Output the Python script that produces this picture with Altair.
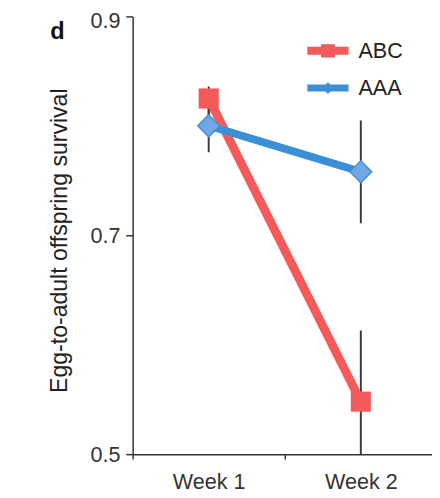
import altair as alt
import pandas as pd

weeks = ["Week 1", "Week 2"]
week_pos = [1, 2]
series = ["ABC", "AAA"]
abc_mean = [0.825, 0.548]
abc_lo = [0.810, 0.484]
abc_hi = [0.836, 0.613]
aaa_mean = [0.800, 0.758]
aaa_lo = [0.776, 0.711]
aaa_hi = [0.826, 0.805]

RED = "#f45a5a"
BLUE = "#3a8fd6"
DIAMOND = "#6fa8e6"
FONT = "Liberation Sans"

rows = []
for s, m, lo, hi in [("ABC", abc_mean, abc_lo, abc_hi), ("AAA", aaa_mean, aaa_lo, aaa_hi)]:
    for w, p, mv, l, h in zip(weeks, week_pos, m, lo, hi):
        rows.append({"series": s, "week": w, "pos": p, "mean": mv, "lo": l, "hi": h})
df = pd.DataFrame(rows)

x_scale = alt.Scale(domain=[0.5, 2.468], nice=False, zero=False)
x_axis = alt.Axis(
    title=None, values=[0.5, 1, 1.5, 2], labelExpr="datum.value % 1 === 0 ? 'Week ' + datum.value : ''",
    labelFlush=False, labelAngle=0, labelFont=FONT, labelFontSize=22,
    labelColor="#333", domainColor="#333", domainWidth=1.5, tickColor="#333",
    tickWidth=1.5, tickSize=5, labelPadding=13, grid=False,
    tickOpacity={"condition": {"test": "datum.value % 1 === 0", "value": 0}, "value": 1},
)
x = alt.X("pos:Q", scale=x_scale, axis=x_axis)

y_scale = alt.Scale(domain=[0.5, 0.9], nice=False, zero=False)
y_axis = alt.Axis(
    values=[0.5, 0.7, 0.9], format=".1f", title="Egg-to-adult offspring survival",
    titleFont=FONT, titleFontSize=23.5, titleFontWeight="normal", titleColor="#222",
    titleX=-62, titleY=228, titleAngle=270, titleBaseline="bottom",
    labelFont=FONT, labelFontSize=22, labelColor="#333", domainColor="#333",
    domainWidth=1.5, tickColor="#333", tickWidth=1.5, tickSize=7, labelPadding=6,
    grid=False,
    labelOffset={"condition": {"test": "datum.value > 0.85", "value": 4}, "value": 0},
)
y = alt.Y("mean:Q", scale=y_scale, axis=y_axis)

PATH_ABC = "M-1.4,-0.27H1.4V0.27H-1.4Z M-0.47,-0.45H0.47V0.45H-0.47Z"
PATH_AAA = "M-1.4,-0.24H1.4V0.24H-1.4Z M0,-0.4L0.4,0L0,0.4L-0.4,0Z"

legend = alt.Legend(
    title=None, orient="none", legendX=184, legendY=20, padding=0,
    labelFont=FONT, labelFontSize=22, labelColor="#222", labelOffset=16,
    symbolSize=900, rowPadding=12, symbolStrokeWidth=0, symbolOpacity=1,
)

base = alt.Chart(df)

bars = base.mark_rule(color="#3a3a3a", strokeWidth=2, clip=True).encode(
    x=x, y=alt.Y("lo:Q", scale=y_scale, axis=y_axis), y2="hi:Q"
)
line_abc = base.transform_filter("datum.series === 'ABC'").mark_line(strokeWidth=9, color=RED).encode(
    x=x, y=y
)
pt_abc = base.transform_filter("datum.series === 'ABC'").mark_point(
    shape="square", filled=True, size=420, color=RED, opacity=1
).encode(x=x, y=y)
line_aaa = base.transform_filter("datum.series === 'AAA'").mark_line(strokeWidth=8, color=BLUE).encode(
    x=x, y=y
)
pt_aaa = base.transform_filter("datum.series === 'AAA'").mark_point(
    shape="diamond", filled=True, size=500, fill=DIAMOND, stroke="#4a8fd2", strokeWidth=1.5, opacity=1
).encode(x=x, y=y)

# legend-only layer: its marks sit far outside the clipped plot area
legend_layer = base.transform_filter("datum.pos === 1").transform_calculate(
    off="0"
).mark_point(filled=True, size=900, opacity=1, clip=True).encode(
    x=x,
    y=alt.Y("off:Q", scale=y_scale, axis=y_axis),
    color=alt.Color("series:N", scale=alt.Scale(domain=series, range=[RED, BLUE]), legend=legend),
    shape=alt.Shape("series:N", scale=alt.Scale(domain=series, range=[PATH_ABC, PATH_AAA]), legend=legend),
)

panel = alt.Chart(pd.DataFrame({"t": ["d"]})).mark_text(
    font=FONT, fontSize=24, fontWeight="bold", color="#111", align="left", baseline="alphabetic"
).encode(text="t:N", x=alt.value(-84), y=alt.value(23))

chart = alt.layer(bars, line_abc, pt_abc, line_aaa, pt_aaa, legend_layer, panel).properties(
    width=305,
    height=446,
    autosize=alt.AutoSizeParams(type="none"),
    padding={"left": 127, "top": 4, "right": 0, "bottom": 36},
).configure_view(stroke=None)

chart.save("out.html", embed_options={"renderer": "svg", "actions": False})
